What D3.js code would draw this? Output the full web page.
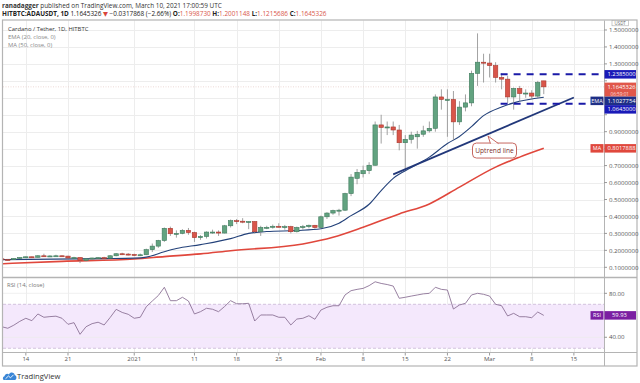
<!DOCTYPE html>
<html lang="en">
<head>
<meta charset="utf-8" />
<title>ADAUSDT 1D</title>
<script src="https://cdn.jsdelivr.net/npm/d3@7"></script>
<style>
  body { margin: 0; background: #fff; }
  svg { display: block; font-family: "Open Sans", "DejaVu Sans", sans-serif; }
</style>
</head>
<body>
<div id="chart"></div>
<script>
// ---- data ----
// daily candles, 2020-12-10 .. 2021-03-10
var open = [0.150,0.146,0.145,0.152,0.158,0.162,0.159,0.168,0.166,0.167,0.168,0.166,0.155,0.158,0.140,0.150,0.155,0.157,0.154,0.168,0.180,0.178,
  0.176,0.172,0.174,0.204,0.225,0.258,0.330,0.298,0.300,0.318,0.305,0.275,0.282,0.308,0.308,0.302,0.345,0.375,0.372,0.368,0.370,0.310,0.335,0.336,0.342,0.338,0.340,0.310,0.335,0.340,0.348,
  0.335,0.398,0.420,0.435,0.437,0.535,0.625,0.652,0.670,0.702,0.940,0.925,0.928,0.910,0.835,0.855,0.870,0.885,0.905,0.920,1.105,1.090,1.090,0.958,1.045,1.070,1.244,1.310,
  1.305,1.290,1.220,1.210,1.105,1.155,1.125,1.128,1.110,1.1998730];
var high = [0.152,0.148,0.154,0.160,0.164,0.164,0.172,0.180,0.171,0.174,0.170,0.168,0.162,0.159,0.153,0.157,0.160,0.162,0.172,0.184,0.186,0.184,
  0.180,0.181,0.210,0.240,0.262,0.335,0.340,0.318,0.325,0.332,0.310,0.290,0.312,0.322,0.318,0.350,0.382,0.385,0.390,0.372,0.372,0.345,0.345,0.352,0.360,0.350,0.345,0.340,0.350,0.352,0.350,
  0.405,0.425,0.440,0.445,0.540,0.650,0.680,0.700,0.720,0.960,1.000,0.960,0.960,0.940,0.880,0.900,0.905,0.935,0.960,1.120,1.150,1.150,1.140,1.080,1.120,1.260,1.480,1.360,
  1.360,1.310,1.245,1.230,1.160,1.170,1.150,1.145,1.200,1.2001148];
var low = [0.143,0.140,0.144,0.150,0.154,0.155,0.157,0.162,0.161,0.164,0.161,0.150,0.148,0.125,0.136,0.146,0.151,0.150,0.153,0.165,0.172,0.170,
  0.166,0.166,0.172,0.190,0.215,0.250,0.285,0.275,0.295,0.292,0.250,0.262,0.270,0.298,0.285,0.300,0.335,0.355,0.360,0.325,0.300,0.285,0.325,0.328,0.335,0.322,0.300,0.305,0.322,0.330,0.328,
  0.330,0.385,0.410,0.405,0.432,0.520,0.590,0.630,0.650,0.700,0.830,0.880,0.880,0.790,0.680,0.830,0.800,0.870,0.895,0.900,1.030,0.870,0.850,0.940,1.020,1.050,1.170,1.190,
  1.220,1.190,1.150,1.070,1.030,1.080,1.100,1.090,1.100,1.1215686];
var close = [0.146,0.145,0.152,0.158,0.162,0.159,0.168,0.166,0.167,0.168,0.166,0.155,0.158,0.140,0.150,0.155,0.157,0.154,0.168,0.180,0.178,0.176,
  0.172,0.174,0.204,0.225,0.258,0.330,0.298,0.300,0.318,0.305,0.275,0.282,0.308,0.308,0.302,0.345,0.375,0.372,0.368,0.370,0.310,0.335,0.336,0.342,0.338,0.340,0.310,0.335,0.340,0.348,0.335,
  0.398,0.420,0.435,0.437,0.535,0.632,0.660,0.670,0.702,0.940,0.925,0.928,0.910,0.835,0.855,0.880,0.885,0.905,0.920,1.105,1.090,1.090,0.958,1.045,1.070,1.244,1.310,1.305,
  1.290,1.220,1.210,1.105,1.155,1.125,1.128,1.110,1.190,1.1645326];
var rsi = [49.6,48.2,51,54.5,57.3,55.1,61.2,58.2,58.8,59.2,57.3,51.8,53.3,42.7,49.6,52.4,53.7,51.2,58,65.4,62.6,60.9,
  57.3,58.2,67.8,73,78,85.5,73.3,73.3,76.4,73,61.2,63.3,66.4,65.5,63.3,68,73.3,70.5,70.5,70.9,54.8,60.3,60.3,60.3,58.2,58.2,51.2,56.6,57.3,59.6,56.4,
  64.8,67.3,68.7,68.7,78.5,82.4,83.6,84.5,87,90.5,89,88,86.6,75.5,76.4,77.5,78.5,79.5,80,85.5,83.6,83,65.7,69.4,70.9,78.5,80,79.1,
  77.5,70,68.7,59.4,61.8,58.7,58.7,57.8,63,59.93];

var emaDates = ["2020-12-10","2020-12-27","2021-01-01","2021-01-03","2021-01-06","2021-01-08","2021-01-12","2021-01-17","2021-01-20","2021-01-23","2021-01-28","2021-02-01","2021-02-04","2021-02-06","2021-02-09","2021-02-11","2021-02-13","2021-02-16","2021-02-19","2021-02-22","2021-02-24","2021-02-26","2021-02-28","2021-03-03","2021-03-05","2021-03-10"];
var emaValues = [0.145,0.151,0.154,0.160,0.192,0.211,0.234,0.269,0.300,0.311,0.317,0.327,0.360,0.405,0.472,0.553,0.625,0.688,0.750,0.830,0.872,0.930,0.995,1.046,1.070,1.1027754];

var maDates = ["2020-12-10","2020-12-20","2021-01-01","2021-01-06","2021-01-12","2021-01-17","2021-01-29","2021-02-03","2021-02-08","2021-02-14","2021-02-19","2021-02-24","2021-03-02","2021-03-06","2021-03-10"];
var maValues = [0.121,0.135,0.149,0.163,0.179,0.198,0.238,0.277,0.336,0.415,0.474,0.573,0.691,0.750,0.8017888];

var trendDates = ["2021-02-13","2021-03-15"];
var trendValues = [0.648,1.102];

var levelStart = "2021-03-03";
var levelValues = [1.2385, 1.0643];

var priceTicks = [0.1,0.2,0.3,0.4,0.5,0.6,0.7,0.8,0.9,1.0,1.1,1.2,1.3,1.4,1.5];
var rsiTicks = [80, 40];
var timeTicks = ["2020-12-14","2020-12-21","2021-01-01","2021-01-11","2021-01-18","2021-01-25","2021-02-01","2021-02-08","2021-02-15","2021-02-22","2021-03-01","2021-03-08","2021-03-15"];
var timeLabels = ["14","21","2021","11","18","25","Feb","8","15","22","Mar","8","15"];

// ---- layout ----
var W = 640, H = 383;
var left = 3, axisX = 604, right = 637;
var mainTop = 20.5, mainBot = 277, rsiBot = 352, bottom = 366;

var parse = d3.utcParse("%Y-%m-%d");
var days = d3.utcDay.range(parse("2020-12-10"), parse("2021-03-11"));
var candles = days.map(function(d, i) {
  return {date: d, o: open[i], h: high[i], l: low[i], c: close[i], r: rsi[i]};
});

var x = d3.scaleUtc()
  .domain([new Date(Date.UTC(2020, 11, 10, 5)), new Date(Date.UTC(2021, 2, 20))])
  .range([left, axisX]);
var y = d3.scaleLinear().domain([0.0428, 1.556]).range([mainBot, mainTop]);
var yr = d3.scaleLinear().domain([26.6, 94.4]).range([rsiBot, mainBot + 0.5]);

var svg = d3.select("#chart").append("svg")
  .attr("width", W).attr("height", H);
svg.append("rect").attr("width", W).attr("height", H).attr("fill", "#fff");

var defs = svg.append("defs");
defs.append("clipPath").attr("id", "clipMain").append("rect")
  .attr("x", left).attr("y", mainTop).attr("width", axisX - left).attr("height", mainBot - mainTop);
defs.append("clipPath").attr("id", "clipRsi").append("rect")
  .attr("x", left).attr("y", mainBot).attr("width", axisX - left).attr("height", rsiBot - mainBot);

// header
var h1 = svg.append("text").attr("x", 2).attr("y", 8).attr("font-size", 6.4).attr("fill", "#333");
h1.append("tspan").attr("font-weight", "bold").text("ranadagger");
h1.append("tspan").text(" published on TradingView.com, March 10, 2021 17:00:59 UTC");

var h2 = svg.append("text").attr("x", 2).attr("y", 16.3).attr("font-size", 6.4).attr("fill", "#222");
h2.append("tspan").attr("font-weight", "bold").text("HITBTC:ADAUSDT, 1D");
h2.append("tspan").text("  1.1645326 ");
h2.append("tspan").attr("fill", "#d9463b").text("\u25BC");
h2.append("tspan").text(" \u22120.0317868 (\u22122.66%) ");
[["O:", "1.1998730"], ["H:", "1.2001148"], ["L:", "1.1215686"], ["C:", "1.1645326"]].forEach(function(p) {
  h2.append("tspan").attr("font-weight", "bold").text(p[0]);
  h2.append("tspan").attr("fill", "#d9574c").text(p[1] + " ");
});

// grid
var grid = svg.append("g").attr("stroke", "#ededed").attr("stroke-width", 1);
timeTicks.forEach(function(t) {
  var gx = Math.round(x(parse(t))) + 0.5;
  grid.append("line").attr("x1", gx).attr("x2", gx).attr("y1", mainTop).attr("y2", rsiBot);
});
priceTicks.forEach(function(v) {
  var gy = Math.round(y(v)) + 0.5;
  grid.append("line").attr("x1", left).attr("x2", axisX).attr("y1", gy).attr("y2", gy);
});

// rsi band
svg.append("rect").attr("x", left).attr("width", axisX - left)
  .attr("y", yr(70)).attr("height", yr(30) - yr(70))
  .attr("fill", "#f4e8fc").attr("clip-path", "url(#clipRsi)");
[70, 30].forEach(function(v) {
  svg.append("line").attr("x1", left).attr("x2", axisX).attr("y1", yr(v)).attr("y2", yr(v))
    .attr("stroke", "#c9b6d6").attr("stroke-width", 0.8).attr("stroke-dasharray", "3,2");
});
rsiTicks.forEach(function(v) {
  svg.append("line").attr("x1", left).attr("x2", axisX).attr("y1", yr(v)).attr("y2", yr(v))
    .attr("stroke", "#ececec").attr("stroke-width", 0.8);
});

var main = svg.append("g").attr("clip-path", "url(#clipMain)");

// last price line
main.append("line").attr("x1", left).attr("x2", axisX)
  .attr("y1", y(close[close.length - 1])).attr("y2", y(close[close.length - 1]))
  .attr("stroke", "#e8cfcc").attr("stroke-width", 0.8).attr("stroke-dasharray", "1,1.5");

// moving averages
var lineGen = d3.line().x(function(d) { return x(d[0]); }).y(function(d) { return y(d[1]); })
  .curve(d3.curveMonotoneX);
main.append("path")
  .attr("d", lineGen(maDates.map(function(d, i) { return [parse(d), maValues[i]]; })))
  .attr("fill", "none").attr("stroke", "#e0473c").attr("stroke-width", 1.6);
main.append("path")
  .attr("d", lineGen(emaDates.map(function(d, i) { return [parse(d), emaValues[i]]; })))
  .attr("fill", "none").attr("stroke", "#24427a").attr("stroke-width", 1.1);

// candles
var bw = 4.4;
var cg = main.append("g");
cg.selectAll("line.wick").data(candles).enter().append("line")
  .attr("x1", function(d) { return x(d.date); }).attr("x2", function(d) { return x(d.date); })
  .attr("y1", function(d) { return y(d.h); }).attr("y2", function(d) { return y(d.l); })
  .attr("stroke", "#8a8a8a").attr("stroke-width", 0.8);
cg.selectAll("rect.body").data(candles).enter().append("rect")
  .attr("x", function(d) { return x(d.date) - bw / 2; })
  .attr("y", function(d) { return y(Math.max(d.o, d.c)); })
  .attr("width", bw)
  .attr("height", function(d) { return Math.max(1, Math.abs(y(d.o) - y(d.c))); })
  .attr("fill", function(d) { return d.c >= d.o ? "#62a380" : "#d9554a"; })
  .attr("stroke", function(d) { return d.c >= d.o ? "#3f7a5d" : "#a8392f"; })
  .attr("stroke-width", 0.6);

// uptrend line
main.append("line")
  .attr("x1", x(parse(trendDates[0]))).attr("y1", y(trendValues[0]))
  .attr("x2", x(parse(trendDates[1]))).attr("y2", y(trendValues[1]))
  .attr("stroke", "#22387a").attr("stroke-width", 1.8);

// horizontal levels
levelValues.forEach(function(v) {
  main.append("line")
    .attr("x1", x(parse(levelStart)) - 1).attr("x2", axisX)
    .attr("y1", y(v)).attr("y2", y(v))
    .attr("stroke", "#1a1aa8").attr("stroke-width", 2).attr("stroke-dasharray", "7,6");
});

// callout
var tipX = 488;
var tx0 = x(parse(trendDates[0])), tx1 = x(parse(trendDates[1]));
var tipY = y(trendValues[0]) + (tipX - tx0) / (tx1 - tx0) * (y(trendValues[1]) - y(trendValues[0])) + 2;
var bx = tipX - 15.5, by = tipY + 7, bwid = 44, bh = 15;
var callout = svg.append("g");
callout.append("rect").attr("x", bx).attr("y", by).attr("width", bwid).attr("height", bh)
  .attr("rx", 4).attr("fill", "#fff").attr("stroke", "#c0574f").attr("stroke-width", 0.9);
callout.append("path")
  .attr("d", "M" + (bx + 18) + "," + (by + 0.6) + " L" + tipX + "," + tipY + " L" + (bx + 26) + "," + (by + 0.6))
  .attr("fill", "#fff").attr("stroke", "#c0574f").attr("stroke-width", 0.9);
callout.append("text").attr("x", bx + bwid / 2).attr("y", by + bh / 2 + 2.3)
  .attr("text-anchor", "middle").attr("font-size", 6.6).attr("fill", "#7e2f29").text("Uptrend line");

// rsi line
svg.append("path").attr("clip-path", "url(#clipRsi)")
  .attr("d", d3.line().x(function(d) { return x(d.date); }).y(function(d) { return yr(d.r); })(candles))
  .attr("fill", "none").attr("stroke", "#8c7396").attr("stroke-width", 0.9);

// frame
var frame = svg.append("g").attr("fill", "none").attr("stroke", "#b4b4b4");
frame.append("rect").attr("x", left - 0.5).attr("y", mainTop - 0.5).attr("width", right - left + 0.5).attr("height", bottom - mainTop + 0.5).attr("stroke-width", 1.2);
frame.append("line").attr("x1", left).attr("x2", right).attr("y1", mainBot + 0.5).attr("y2", mainBot + 0.5).attr("stroke-width", 1.6);
frame.append("line").attr("x1", left).attr("x2", right).attr("y1", rsiBot + 0.5).attr("y2", rsiBot + 0.5).attr("stroke-width", 1);
frame.append("line").attr("x1", axisX + 0.5).attr("x2", axisX + 0.5).attr("y1", mainTop).attr("y2", bottom).attr("stroke-width", 1);

// axis value tags (stacked so they do not overlap)
var tags = [
  {v: levelValues[0], text: "1.2385000", fill: "#1a1ab8", h: 8.5},
  {v: close[close.length - 1], text: "1.1645326", sub: "06:59:01", fill: "#e0574a", h: 14},
  {v: emaValues[emaValues.length - 1], text: "1.1027754", fill: "#1f2f86", h: 8.5, name: "EMA"},
  {v: levelValues[1], text: "1.0643000", fill: "#1a1ab8", h: 8.5},
  {v: maValues[maValues.length - 1], text: "0.8017888", fill: "#e0483d", h: 8.5, name: "MA"}
];
var lastBottom = -Infinity;
tags.forEach(function(t) {
  var top = y(t.v) - 4.25;
  if (top < lastBottom) top = lastBottom;
  t.top = top;
  lastBottom = top + t.h;
});

// price axis (tick labels that sit under a tag are left out, as on the chart)
var pa = svg.append("g").attr("font-size", 6.1).attr("fill", "#555");
priceTicks.forEach(function(v) {
  var py = y(v);
  pa.append("line").attr("x1", axisX).attr("x2", axisX + 3).attr("y1", py).attr("y2", py).attr("stroke", "#999");
  var hidden = tags.some(function(t) { return py + 2.5 > t.top && py - 2.5 < t.top + t.h; });
  if (!hidden) pa.append("text").attr("x", axisX + 5).attr("y", py + 2.5).text(v.toFixed(7));
});
rsiTicks.forEach(function(v) {
  pa.append("line").attr("x1", axisX).attr("x2", axisX + 3).attr("y1", yr(v)).attr("y2", yr(v)).attr("stroke", "#999");
  pa.append("text").attr("x", axisX + 5).attr("y", yr(v) + 2.2).text(v.toFixed(2));
});
svg.append("rect").attr("x", 612).attr("y", 20.6).attr("width", 16.5).attr("height", 5.2)
  .attr("fill", "#fff").attr("stroke", "#aaa").attr("stroke-width", 0.6);
svg.append("text").attr("x", 620.2).attr("y", 24.6).attr("text-anchor", "middle")
  .attr("font-size", 4.4).attr("fill", "#666").text("USDT");

tags.forEach(function(t) {
  var g = svg.append("g");
  g.append("rect").attr("x", axisX + 0.5).attr("y", t.top).attr("width", 31.5).attr("height", t.h).attr("fill", t.fill);
  g.append("text").attr("x", axisX + 3.5).attr("y", t.top + 6.1).attr("font-size", 5.8).attr("fill", "#fff").text(t.text);
  if (t.sub) {
    g.append("text").attr("x", axisX + 6.5).attr("y", t.top + 13).attr("font-size", 4.7).attr("fill", "#fbd9d5").text(t.sub);
  }
  if (t.name) {
    g.append("rect").attr("x", axisX - 13.5).attr("y", t.top).attr("width", 13).attr("height", t.h).attr("fill", t.fill);
    g.append("text").attr("x", axisX - 7).attr("y", t.top + 6.1).attr("text-anchor", "middle")
      .attr("font-size", 5.4).attr("fill", "#fff").text(t.name);
  }
});

// rsi tag
var rTop = yr(rsi[rsi.length - 1]) - 4.25;
svg.append("rect").attr("x", axisX + 0.5).attr("y", rTop).attr("width", 31.5).attr("height", 8.5).attr("fill", "#7b1fa2");
svg.append("text").attr("x", axisX + 8).attr("y", rTop + 6.1).attr("font-size", 5.8).attr("fill", "#fff").text(rsi[rsi.length - 1].toFixed(2));
svg.append("rect").attr("x", axisX - 13.5).attr("y", rTop).attr("width", 13).attr("height", 8.5).attr("fill", "#7b1fa2");
svg.append("text").attr("x", axisX - 7).attr("y", rTop + 6.1).attr("text-anchor", "middle").attr("font-size", 5.4).attr("fill", "#fff").text("RSI");

// time axis
var ta = svg.append("g").attr("font-size", 6).attr("fill", "#555").attr("text-anchor", "middle");
timeTicks.forEach(function(t, i) {
  var tx = x(parse(t));
  ta.append("line").attr("x1", tx).attr("x2", tx).attr("y1", rsiBot + 1).attr("y2", rsiBot + 3.5).attr("stroke", "#999");
  ta.append("text").attr("x", tx).attr("y", 361).text(timeLabels[i]);
});

// legends
var lg = svg.append("g").attr("font-size", 5.9);
lg.append("text").attr("x", 8).attr("y", 31).attr("fill", "#333").text("Cardano / Tether, 1D, HITBTC");
lg.append("text").attr("x", 8).attr("y", 39).attr("fill", "#888").text("EMA (20, close, 0)");
lg.append("text").attr("x", 8).attr("y", 47).attr("fill", "#888").text("MA (50, close, 0)");
lg.append("text").attr("x", 7).attr("y", 286.5).attr("fill", "#777").text("RSI (14, close)");

// tradingview mark
var logo = svg.append("g").attr("transform", "translate(3,371)");
logo.append("path")
  .attr("d", "M1,9 C-0.5,9 -0.5,5.5 1.5,5.3 C1.8,2.8 4.5,2 6,3.4 C7,0.6 11.5,0.8 11.8,4.2 C14,4.3 14,9 11.8,9 Z")
  .attr("fill", "#3a86d6");
logo.append("path").attr("d", "M2.5,7.8 L5.5,5 L7.5,6.8 L10.5,3.8")
  .attr("fill", "none").attr("stroke", "#fff").attr("stroke-width", 0.9);
svg.append("text").attr("x", 17).attr("y", 379).attr("font-size", 7.6).attr("fill", "#333").text("TradingView");
</script>
</body>
</html>
